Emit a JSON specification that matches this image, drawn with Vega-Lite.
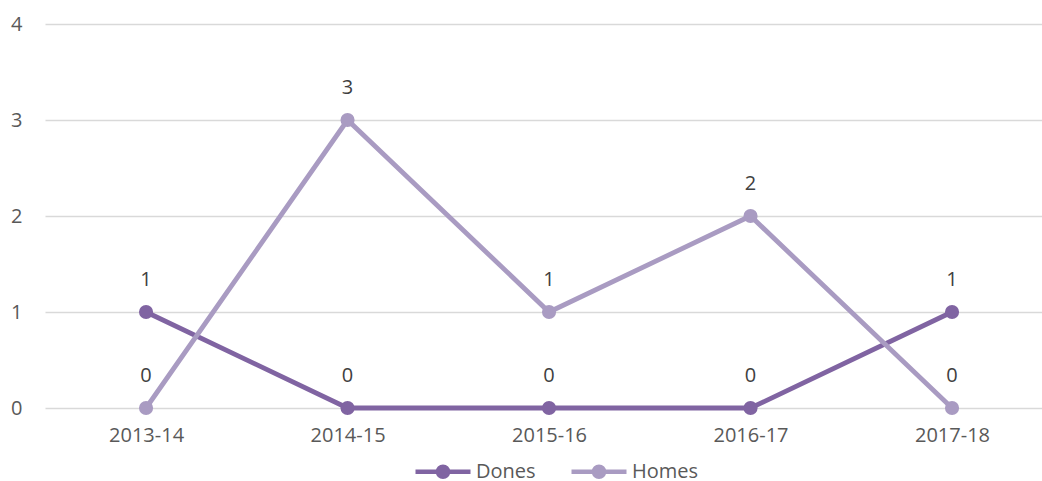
{
  "$schema": "https://vega.github.io/schema/vega-lite/v6.json",
  "width": 997,
  "height": 384,
  "autosize": {"type": "none"},
  "padding": {"left": 45, "top": 24, "right": 0, "bottom": 73},
  "background": "white",
  "config": {
    "view": {"stroke": null},
    "font": "Open Sans"
  },
  "data": {
    "values": [
      {"year": "2013-14", "series": "Dones", "value": 1},
      {"year": "2014-15", "series": "Dones", "value": 0},
      {"year": "2015-16", "series": "Dones", "value": 0},
      {"year": "2016-17", "series": "Dones", "value": 0},
      {"year": "2017-18", "series": "Dones", "value": 1},
      {"year": "2013-14", "series": "Homes", "value": 0},
      {"year": "2014-15", "series": "Homes", "value": 3},
      {"year": "2015-16", "series": "Homes", "value": 1},
      {"year": "2016-17", "series": "Homes", "value": 2},
      {"year": "2017-18", "series": "Homes", "value": 0}
    ]
  },
  "encoding": {
    "x": {
      "field": "year", "type": "ordinal", "title": null,
      "scale": {"type": "point", "padding": 0.474, "align": 0.529},
      "axis": {"labelAngle": 0, "ticks": false, "domain": false, "grid": false, "labelFontSize": 20, "labelColor": "#595959", "labelPadding": 17}
    },
    "y": {
      "field": "value", "type": "quantitative", "title": null,
      "scale": {"domain": [0, 4], "nice": false},
      "axis": {"values": [0, 1, 2, 3, 4], "ticks": false, "domain": false, "gridColor": "#d9d9d9", "gridWidth": 1.5, "labelFontSize": 20, "labelColor": "#595959", "labelPadding": 23, "format": "d"}
    },
    "color": {
      "field": "series", "type": "nominal", "title": null,
      "scale": {"domain": ["Dones", "Homes"], "range": ["#8064a2", "#a99bc2"]},
      "legend": {
        "orient": "none", "direction": "horizontal", "legendX": 368, "legendY": 437,
        "symbolType": "M-1,0L5.875,0M1.8125,0A0.625,0.625,0,1,0,3.0625,0A0.625,0.625,0,1,0,1.8125,0Z",
        "symbolSize": 256, "symbolStrokeWidth": 4.5,
        "labelFontSize": 20, "labelColor": "#595959", "labelOffset": 42, "columnPadding": 26,
        "encode": {"symbols": {"update": {"fill": {"scale": "color", "field": "value"}, "stroke": {"scale": "color", "field": "value"}, "fillOpacity": {"value": 1}, "strokeOpacity": {"value": 1}}}}
      }
    }
  },
  "layer": [
    {"mark": {"type": "line", "strokeWidth": 4.8}},
    {"mark": {"type": "point", "filled": true, "opacity": 1, "size": 200}},
    {"mark": {"type": "text", "dy": -32, "fontSize": 20, "color": "#404040"}, "encoding": {"text": {"field": "value", "type": "quantitative"}, "color": {"value": "#404040"}}}
  ]
}
